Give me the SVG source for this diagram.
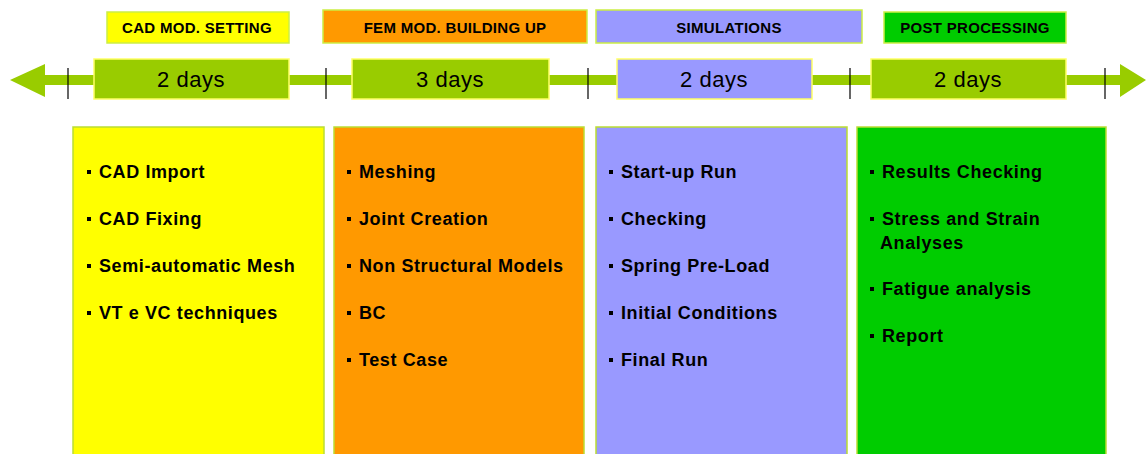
<svg xmlns="http://www.w3.org/2000/svg" width="1146" height="454" viewBox="0 0 1146 454">
<style>
.hdr{stroke:#ccee44;stroke-width:1.5}
.hdrt{font-family:"Liberation Sans",Arial,sans-serif;font-weight:bold;font-size:15px;fill:#000;text-anchor:middle;letter-spacing:0.3px}
.day{fill:#99cc00;stroke:#ffff66;stroke-width:1.5}
.dayt{font-family:"Liberation Sans",Arial,sans-serif;font-size:22px;fill:#000;text-anchor:middle;letter-spacing:0.5px}
.col{stroke:#bbdd33;stroke-width:1.5}
.it{font-family:"Liberation Sans",Arial,sans-serif;font-weight:bold;font-size:18px;fill:#000;letter-spacing:0.6px}
.tick{stroke:#000;stroke-width:1.2}
</style>
<defs>
<rect id="b" width="4" height="4" fill="#000"/>
</defs>
<g id="connectors">
<rect x="40" y="75" width="1085" height="10" fill="#99cc00"/>
<polygon points="10,80 45,64 45,97" fill="#99cc00"/>
<polygon points="1146,80 1120,64 1120,97" fill="#99cc00"/>
<line class="tick" x1="68" y1="68" x2="68" y2="99"/>
<line class="tick" x1="326" y1="68" x2="326" y2="99"/>
<line class="tick" x1="588" y1="68" x2="588" y2="99"/>
<line class="tick" x1="850" y1="68" x2="850" y2="99"/>
<line class="tick" x1="1105" y1="68" x2="1105" y2="99"/>
</g>
<g id="hdr-cad">
<rect class="hdr" x="107" y="12" width="182" height="31" fill="#ffff00"/>
<text class="hdrt" x="197" y="33">CAD MOD. SETTING</text>
</g>
<g id="hdr-fem">
<rect class="hdr" x="323" y="10" width="264" height="33" fill="#ff9900"/>
<text class="hdrt" x="455" y="33">FEM MOD. BUILDING UP</text>
</g>
<g id="hdr-sim">
<rect class="hdr" x="596" y="10" width="266" height="33" fill="#9999ff"/>
<text class="hdrt" x="729" y="33">SIMULATIONS</text>
</g>
<g id="hdr-post">
<rect class="hdr" x="884" y="12" width="182" height="31" fill="#00cc00"/>
<text class="hdrt" x="975" y="33">POST PROCESSING</text>
</g>
<g id="day-cad">
<rect class="day" x="94" y="59" width="195" height="40"/>
<text class="dayt" x="191" y="87">2 days</text>
</g>
<g id="day-fem">
<rect class="day" x="352" y="59" width="197" height="40"/>
<text class="dayt" x="450" y="87">3 days</text>
</g>
<g id="day-sim">
<rect class="day" x="617" y="59" width="195" height="40" style="fill:#9999ff"/>
<text class="dayt" x="714" y="87">2 days</text>
</g>
<g id="day-post">
<rect class="day" x="871" y="59" width="195" height="40"/>
<text class="dayt" x="968" y="87">2 days</text>
</g>
<g id="col-cad">
<rect class="col" x="73" y="127" width="251" height="340" fill="#ffff00"/>
<use href="#b" x="87" y="170"/><text class="it" x="99" y="178">CAD Import</text>
<use href="#b" x="87" y="217"/><text class="it" x="99" y="225">CAD Fixing</text>
<use href="#b" x="87" y="264"/><text class="it" x="99" y="272">Semi-automatic Mesh</text>
<use href="#b" x="87" y="311"/><text class="it" x="99" y="319">VT e VC techniques</text>
</g>
<g id="col-fem">
<rect class="col" x="334" y="127" width="250" height="340" fill="#ff9900"/>
<use href="#b" x="347" y="170"/><text class="it" x="359" y="178">Meshing</text>
<use href="#b" x="347" y="217"/><text class="it" x="359" y="225">Joint Creation</text>
<use href="#b" x="347" y="264"/><text class="it" x="359" y="272">Non Structural Models</text>
<use href="#b" x="347" y="311"/><text class="it" x="359" y="319">BC</text>
<use href="#b" x="347" y="358"/><text class="it" x="359" y="366">Test Case</text>
</g>
<g id="col-sim">
<rect class="col" x="596" y="127" width="251" height="340" fill="#9999ff"/>
<use href="#b" x="609" y="170"/><text class="it" x="621" y="178">Start-up Run</text>
<use href="#b" x="609" y="217"/><text class="it" x="621" y="225">Checking</text>
<use href="#b" x="609" y="264"/><text class="it" x="621" y="272">Spring Pre-Load</text>
<use href="#b" x="609" y="311"/><text class="it" x="621" y="319">Initial Conditions</text>
<use href="#b" x="609" y="358"/><text class="it" x="621" y="366">Final Run</text>
</g>
<g id="col-post">
<rect class="col" x="857" y="127" width="249" height="340" fill="#00cc00"/>
<use href="#b" x="870" y="170"/><text class="it" x="882" y="178">Results Checking</text>
<use href="#b" x="870" y="217"/><text class="it" x="882" y="225">Stress and Strain</text>
<text class="it" x="880" y="249">Analyses</text>
<use href="#b" x="870" y="287"/><text class="it" x="882" y="295">Fatigue analysis</text>
<use href="#b" x="870" y="334"/><text class="it" x="882" y="342">Report</text>
</g>
</svg>
